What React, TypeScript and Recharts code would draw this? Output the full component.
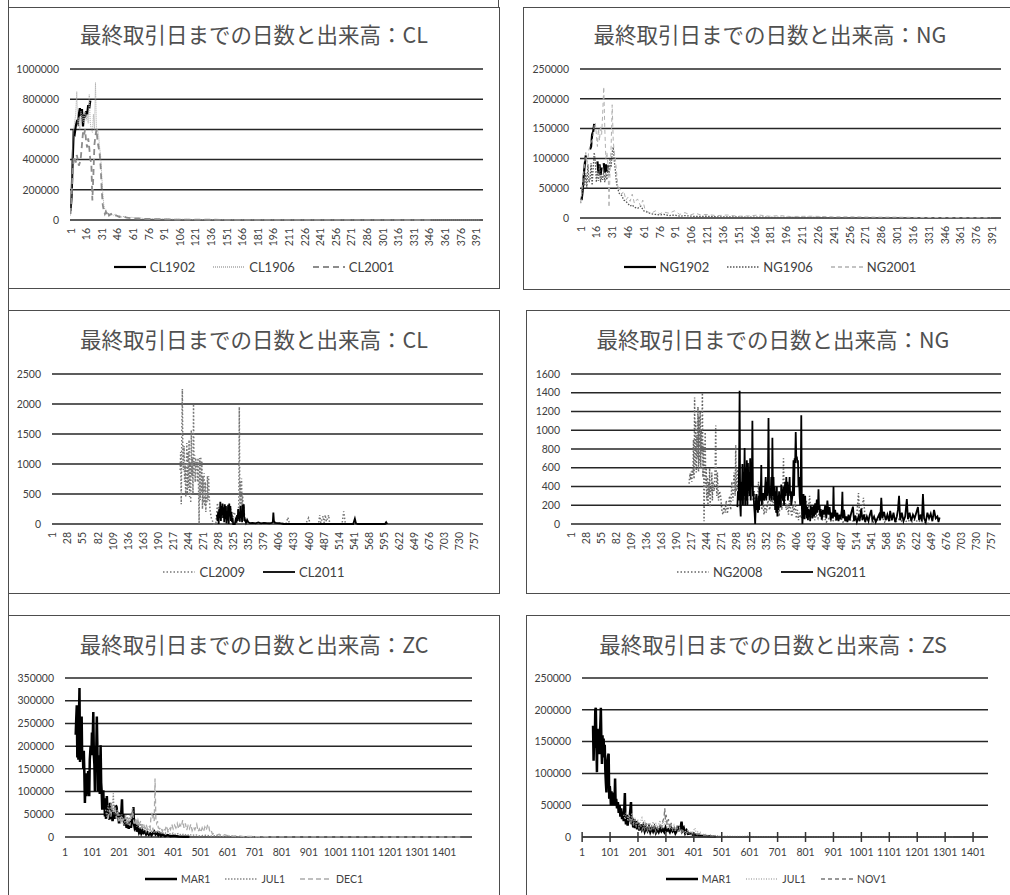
import React from "react";
import { LineChart, Line, XAxis, YAxis, CartesianGrid } from "recharts";

type Pt = [number, number | null];

const FONT = "Lato, 'Liberation Sans', sans-serif";
const JP = "'Noto Sans CJK JP', 'Noto Sans CJK SC', sans-serif";

// tick labels
const xTicks400 = [1, 16, 31, 46, 61, 76, 91, 106, 121, 136, 151, 166, 181, 196, 211, 226, 241, 256, 271, 286, 301, 316, 331, 346, 361, 376, 391];
const xTicks770 = [1, 28, 55, 82, 109, 136, 163, 190, 217, 244, 271, 298, 325, 352, 379, 406, 433, 460, 487, 514, 541, 568, 595, 622, 649, 676, 703, 730, 757];
const xTicks1500 = [1, 101, 201, 301, 401, 501, 601, 701, 801, 901, 1001, 1101, 1201, 1301, 1401];
const yTicksCL = [0, 200000, 400000, 600000, 800000, 1000000];
const yTicksNG = [0, 50000, 100000, 150000, 200000, 250000];
const yTicksCL2 = [0, 500, 1000, 1500, 2000, 2500];
const yTicksNG2 = [0, 200, 400, 600, 800, 1000, 1200, 1400, 1600];
const yTicksZC = [0, 50000, 100000, 150000, 200000, 250000, 300000, 350000];
const yTicksZS = [0, 50000, 100000, 150000, 200000, 250000];

// CL (top)
const cl1902: Pt[] = [[1, 60000], [2, 150000], [3, 380000], [4, 580000], [5, 570000], [6, 620000], [7, 650000], [8, 640000], [9, 700000], [10, 740000], [11, 690000], [12, 735000], [13, 620000], [14, 700000], [15, 680000], [16, 720000], [17, 700000], [18, 760000], [19, 740000], [20, 790000]];
const cl1906: Pt[] = [[1, 30000], [2, 200000], [3, 500000], [4, 600000], [5, 650000], [6, 700000], [7, 850000], [8, 620000], [9, 680000], [10, 600000], [11, 720000], [12, 650000], [13, 700000], [14, 640000], [15, 720000], [16, 660000], [17, 700000], [18, 640000], [19, 830000], [20, 640000], [21, 600000], [22, 580000], [23, 700000], [24, 600000], [25, 910000], [26, 570000], [27, 600000], [28, 560000], [29, 480000], [30, 420000], [31, 300000], [32, 180000], [33, 100000], [34, 70000], [35, 60000], [36, 45000], [37, 50000], [38, 35000], [40, 42000], [42, 30000], [44, 38000], [46, 25000], [48, 30000], [50, 20000], [53, 24000], [56, 15000], [60, 18000], [64, 12000], [68, 14000], [72, 9000], [78, 10000], [85, 7000], [92, 8000], [100, 5000], [110, 5000], [120, 3000], [135, 3000], [150, 2000], [170, 1500], [200, 1000], [240, 800], [280, 500], [320, 400], [360, 300], [395, 200]];
const cl2001: Pt[] = [[1, 40000], [2, 150000], [3, 300000], [4, 400000], [5, 420000], [6, 380000], [7, 430000], [8, 400000], [9, 360000], [10, 380000], [11, 420000], [12, 500000], [13, 580000], [14, 560000], [15, 600000], [16, 520000], [17, 480000], [18, 540000], [19, 480000], [20, 400000], [21, 380000], [22, 130000], [23, 300000], [24, 500000], [25, 560000], [26, 600000], [27, 520000], [28, 480000], [29, 440000], [30, 350000], [31, 200000], [32, 100000], [33, 60000], [34, 40000], [35, 55000], [36, 35000], [37, 50000], [38, 30000], [40, 40000], [42, 25000], [45, 30000], [48, 20000], [51, 25000], [55, 15000], [60, 12000], [66, 10000], [72, 8000], [80, 6000], [90, 5000], [100, 3000], [115, 2500], [130, 2000], [150, 1200], [180, 800], [220, 500], [260, 300], [300, 200], [350, 100]];

// NG (top)
const ng1902: Pt[] = [[2, 30000], [3, 45000], [4, 70000], [5, 90000], [6, 105000], [7, null], [10, 115000], [11, 120000], [12, 140000], [13, 145000], [14, 158000], [15, null], [17, 95000], [18, 75000], [19, 90000], [20, 72000], [21, 85000], [22, null], [23, 92000], [24, 76000], [25, 90000], [26, 78000], [27, 88000]];
const ng1906: Pt[] = [[1, 25000], [2, 35000], [3, 50000], [4, 60000], [5, 55000], [6, 75000], [7, 50000], [8, 90000], [9, 60000], [10, 65000], [11, 92000], [12, 55000], [13, 85000], [14, 110000], [15, 95000], [16, 60000], [17, 80000], [18, 62000], [19, 88000], [20, 60000], [21, 70000], [22, 64000], [23, 80000], [24, 60000], [25, 75000], [26, 64000], [27, 90000], [28, 70000], [29, 100000], [30, 85000], [31, 110000], [32, 119000], [33, 95000], [34, 80000], [35, 60000], [36, 52000], [37, 45000], [38, 40000], [40, 38000], [42, 30000], [44, 28000], [46, 24000], [48, 20000], [50, 22000], [52, 18000], [55, 16000], [58, 20000], [61, 12000], [64, 10000], [68, 7000], [72, 6000], [76, 5000], [80, 6000], [85, 4000], [90, 5000], [95, 3000], [100, 4000], [110, 2500], [120, 3000], [130, 2000], [145, 2000], [160, 1500], [180, 1200], [200, 1000], [230, 800], [260, 600], [290, 500], [320, 400], [350, 300], [362, 200]];
const ng2001: Pt[] = [[1, 25000], [2, 40000], [3, 60000], [4, 75000], [5, 95000], [6, 110000], [7, 90000], [8, 100000], [9, 115000], [10, 120000], [11, 130000], [12, 125000], [13, 140000], [14, 155000], [15, 160000], [16, 140000], [17, 120000], [18, 150000], [19, 130000], [20, 155000], [21, 140000], [22, 175000], [23, 220000], [24, 150000], [25, 100000], [26, 110000], [27, 90000], [28, 18000], [29, 80000], [30, 120000], [31, 190000], [32, 130000], [33, 110000], [34, 100000], [35, 80000], [36, 60000], [37, 45000], [38, 50000], [40, 40000], [42, 45000], [44, 30000], [46, 35000], [48, 28000], [50, 40000], [52, 25000], [55, 32000], [58, 20000], [60, 30000], [62, 15000], [65, 10000], [68, 8000], [72, 12000], [76, 7000], [80, 10000], [85, 8000], [90, 12000], [95, 6000], [100, 9000], [105, 5000], [110, 8000], [115, 5000], [120, 6000], [130, 4000], [140, 5000], [150, 3000], [160, 3500], [170, 5000], [180, 3000], [190, 4000], [200, 2500], [220, 3000], [240, 2000], [260, 2000], [280, 1500], [300, 1500], [320, 1000], [340, 800], [360, 600], [390, 500]];

// CL (middle)
const cl2009: Pt[] = [[230, 900], [231, 1200], [232, 330], [233, 1500], [234, 2250], [235, 1000], [236, 900], [237, 1300], [238, 700], [239, 1000], [240, 450], [241, 900], [242, 1350], [243, 500], [244, 1200], [245, 600], [246, 1400], [247, 450], [248, 1000], [249, 350], [250, 1560], [251, 800], [252, 1100], [253, 500], [254, 2000], [255, 800], [256, 1150], [257, 700], [258, 1100], [259, 900], [260, 1050], [261, 700], [262, 1100], [263, 600], [264, 0], [265, 1100], [266, 400], [267, 1120], [268, 500], [269, 1050], [270, 250], [271, 800], [272, 350], [273, 850], [274, 300], [275, 700], [276, 200], [277, 500], [278, 350], [279, 800], [280, 400], [281, 800], [282, 500], [283, 300], [284, 200], [286, 100], [288, 50], [290, 0], [294, 0], [296, 250], [297, 350], [298, 150], [299, 300], [300, 100], [302, 250], [304, 80], [306, 200], [308, 120], [310, 280], [312, 150], [315, 300], [318, 120], [321, 250], [324, 100], [327, 200], [330, 80], [333, 150], [335, 300], [336, 1950], [337, 300], [338, 700], [339, 200], [340, 760], [341, 250], [342, 500], [343, 150], [344, 300], [346, 50], [350, 20], [360, 10], [380, 10], [400, 20], [420, 10], [423, 110], [426, 0], [455, 0], [460, 100], [463, 0], [478, 0], [480, 150], [482, 20], [486, 130], [488, 20], [490, 150], [492, 40], [496, 150], [498, 0], [520, 0], [523, 210], [526, 0], [540, 0]];
const cl2011: Pt[] = [[296, 150], [297, 50], [298, 200], [299, 0], [300, 250], [301, 100], [302, 370], [303, 50], [304, 300], [305, 150], [306, 340], [307, 100], [308, 280], [309, 30], [310, 330], [311, 80], [312, 300], [313, 10], [314, 200], [315, 60], [316, 320], [317, 0], [318, 340], [319, 150], [320, 300], [321, 50], [322, 200], [323, 30], [324, 100], [325, 0], [328, 0], [330, 100], [331, 20], [332, 150], [333, 50], [334, 250], [335, 80], [336, 180], [337, 40], [338, 300], [339, 100], [340, 200], [341, 30], [342, 320], [343, 120], [344, 330], [345, 50], [346, 80], [348, 20], [350, 70], [352, 30], [355, 15], [360, 20], [365, 10], [370, 25], [375, 10], [380, 20], [385, 15], [390, 10], [394, 20], [396, 30], [397, 190], [398, 50], [400, 20], [405, 15], [410, 10], [415, 0], [540, 0], [543, 90], [545, 10], [548, 0], [597, 0], [599, 30], [601, 0]];

// NG (middle)
const ng2008: Pt[] = [[213, 430], [214, 500], [215, 540], [216, 470], [217, 560], [218, 450], [219, 600], [220, 520], [221, 900], [222, 480], [223, 1350], [224, 600], [225, 1100], [226, 550], [227, 950], [228, 700], [229, 1250], [230, 560], [231, 1150], [232, 650], [233, 1200], [234, 600], [235, 1000], [236, 750], [237, 1400], [238, 500], [239, 850], [240, 30], [241, 500], [242, 980], [243, 380], [244, 600], [245, 250], [246, 500], [247, 200], [248, 450], [249, 300], [250, 600], [251, 180], [252, 400], [253, 350], [254, 550], [255, 250], [256, 450], [258, 350], [260, 600], [261, 1050], [262, 500], [263, 300], [264, 550], [265, 400], [266, 250], [268, 350], [270, 290], [272, 150], [274, 100], [276, 200], [278, 120], [280, 250], [282, 110], [284, 200], [286, 300], [288, 150], [290, 450], [292, 250], [294, 550], [296, 300], [297, 840], [298, 350], [300, 600], [302, 250], [304, 500], [306, 300], [308, 450], [310, 200], [312, 400], [314, 250], [316, 350], [318, 200], [320, 500], [322, 300], [324, 400], [326, 620], [328, 250], [330, 350], [332, 200], [334, 300], [336, 150], [338, 450], [340, 250], [342, 300], [344, 150], [346, 250], [348, 100], [350, 200], [352, 120], [355, 250], [358, 150], [361, 300], [364, 200], [367, 350], [370, 110], [372, 200], [375, 80], [378, 300], [380, 150], [382, 400], [383, 700], [384, 350], [386, 250], [388, 150], [390, 200], [392, 100], [394, 250], [396, 150], [398, 80], [400, 200], [402, 120], [404, 250], [406, 60], [408, 150], [410, 40], [412, 120], [415, 60], [418, 150], [421, 80], [424, 250], [427, 100], [430, 300], [433, 60], [436, 150], [439, 40], [442, 100], [445, 60], [448, 150], [452, 30], [456, 80], [460, 20], [465, 60], [470, 20], [475, 50], [480, 30], [485, 80], [490, 20], [495, 60], [500, 30], [505, 50], [510, 20], [515, 100], [518, 330], [520, 80], [524, 150], [527, 280], [530, 60], [535, 40], [540, 100], [545, 20], [550, 60], [555, 30], [560, 80], [565, 20], [570, 60], [575, 40], [580, 90], [585, 20], [590, 50], [595, 30], [600, 60], [605, 20], [610, 40], [615, 20], [620, 50], [625, 20], [630, 40], [635, 10], [640, 20], [645, 0]];
const ng2011: Pt[] = [[300, 180], [301, 350], [302, 250], [303, 600], [304, 1420], [305, 200], [306, 80], [307, 450], [308, 250], [309, 640], [310, 200], [311, 500], [312, 300], [313, 810], [314, 200], [315, 600], [316, 250], [317, 680], [318, 200], [319, 650], [320, 350], [321, 550], [322, 300], [323, 700], [324, 250], [325, 600], [326, 400], [327, 1100], [328, 300], [329, 350], [330, 200], [331, 120], [332, 0], [333, 200], [334, 320], [335, 150], [336, 200], [337, 120], [338, 300], [339, 150], [340, 400], [341, 250], [342, 300], [343, 630], [344, 200], [345, 320], [346, 260], [347, 330], [348, 250], [349, 300], [350, 400], [351, 500], [352, 250], [353, 450], [354, 300], [355, 500], [356, 1130], [357, 400], [358, 250], [359, 350], [360, 300], [361, 500], [362, 250], [363, 920], [364, 300], [365, 500], [366, 250], [367, 400], [368, 150], [369, 350], [370, 120], [371, 400], [372, 80], [373, 300], [374, 150], [375, 350], [376, 200], [377, 300], [378, 180], [379, 420], [380, 300], [381, 350], [382, 250], [383, 400], [384, 200], [385, 350], [386, 450], [387, 300], [388, 500], [389, 330], [390, 450], [391, 250], [392, 400], [393, 330], [394, 500], [395, 300], [396, 350], [397, 200], [398, 250], [399, 300], [400, 400], [401, 680], [402, 300], [403, 700], [404, 650], [405, 980], [406, 700], [407, 720], [408, 650], [409, 680], [410, 400], [411, 500], [412, 300], [413, 200], [414, 400], [415, 1160], [416, 200], [417, 0], [418, 100], [419, 320], [420, 150], [421, 50], [422, 300], [423, 100], [424, 200], [425, 60], [426, 180], [427, 40], [428, 160], [429, 80], [430, 150], [431, 30], [432, 200], [433, 100], [434, 180], [435, 60], [436, 120], [437, 200], [438, 80], [439, 150], [440, 220], [441, 100], [442, 180], [443, 260], [444, 120], [445, 200], [446, 370], [447, 150], [448, 200], [449, 80], [450, 160], [452, 50], [454, 150], [456, 100], [458, 200], [460, 60], [462, 250], [464, 100], [466, 180], [468, 40], [470, 120], [472, 60], [473, 400], [474, 80], [476, 150], [478, 40], [480, 120], [482, 30], [484, 100], [486, 50], [488, 160], [489, 345], [490, 60], [492, 150], [494, 30], [496, 80], [498, 20], [500, 100], [502, 40], [505, 120], [508, 185], [510, 30], [512, 90], [515, 20], [518, 80], [520, 30], [523, 165], [525, 40], [528, 100], [530, 20], [533, 80], [536, 30], [538, 90], [541, 150], [543, 40], [546, 80], [549, 20], [552, 60], [555, 100], [557, 40], [559, 280], [561, 60], [564, 130], [567, 40], [570, 100], [573, 30], [575, 140], [578, 40], [581, 120], [584, 20], [587, 80], [589, 150], [591, 300], [593, 40], [596, 120], [599, 30], [602, 80], [605, 265], [607, 50], [610, 120], [613, 30], [616, 100], [619, 60], [622, 120], [625, 180], [627, 40], [630, 100], [632, 30], [634, 320], [636, 60], [639, 20], [642, 120], [645, 60], [648, 110], [651, 30], [654, 150], [657, 60], [660, 80], [662, 20], [664, 70]];

// ZC
const zcMar: Pt[] = [[40, 225000], [42, 260000], [44, 290000], [46, 175000], [48, 240000], [50, 170000], [52, 265000], [54, 328000], [56, 165000], [58, 250000], [60, 200000], [62, 265000], [64, 170000], [66, 190000], [68, 150000], [70, 190000], [72, 140000], [74, 75000], [76, 120000], [78, 140000], [80, 90000], [82, 130000], [84, 95000], [86, 145000], [88, 120000], [90, 90000], [92, 170000], [95, 200000], [98, 180000], [100, 230000], [102, 190000], [105, 275000], [107, 180000], [109, 160000], [111, 100000], [113, 200000], [115, 150000], [118, 265000], [120, 200000], [122, 100000], [124, 180000], [126, 130000], [129, 95000], [132, 202000], [134, 120000], [136, 100000], [138, 60000], [140, 90000], [142, 103000], [144, 60000], [146, 85000], [148, 45000], [150, 70000], [152, 40000], [155, 90000], [158, 50000], [161, 70000], [164, 38000], [167, 75000], [170, 40000], [173, 60000], [176, 35000], [179, 45000], [182, 55000], [185, 40000], [188, 70000], [191, 66000], [194, 45000], [197, 50000], [200, 30000], [203, 55000], [206, 40000], [209, 60000], [211, 83000], [213, 40000], [216, 50000], [220, 25000], [224, 40000], [228, 20000], [232, 30000], [236, 18000], [240, 35000], [244, 20000], [248, 40000], [251, 45000], [253, 66000], [255, 30000], [258, 20000], [262, 25000], [266, 12000], [270, 20000], [274, 10000], [278, 15000], [282, 8000], [286, 14000], [290, 9000], [295, 12000], [300, 6000], [305, 10000], [310, 5000], [315, 8000], [320, 4000], [330, 12000], [335, 6000], [340, 9000], [345, 4000], [350, 8000], [355, 3000], [360, 6000], [370, 2000], [380, 4000], [390, 1500], [400, 2500], [420, 1000], [440, 800], [460, 500]];
const zcJul: Pt[] = [[150, 60000], [155, 45000], [160, 70000], [165, 50000], [170, 75000], [175, 55000], [179, 96000], [182, 50000], [186, 70000], [190, 45000], [194, 60000], [198, 35000], [202, 55000], [206, 30000], [210, 50000], [214, 35000], [218, 25000], [222, 40000], [226, 28000], [230, 45000], [234, 25000], [238, 35000], [242, 50000], [246, 40000], [250, 65000], [254, 35000], [258, 28000], [262, 40000], [266, 22000], [270, 37000], [274, 20000], [278, 30000], [282, 18000], [286, 28000], [290, 15000], [295, 24000], [300, 12000], [305, 20000], [310, 10000], [315, 16000], [320, 12000], [325, 18000], [330, 8000], [335, 14000], [340, 9000], [345, 15000], [350, 7000], [355, 12000], [360, 6000], [365, 10000], [370, 8000], [380, 12000], [390, 6000], [400, 9000], [410, 5000], [420, 8000], [430, 4000], [440, 7000], [450, 3000], [460, 6000], [470, 3000], [480, 5000], [500, 2500], [520, 4000], [540, 2000], [560, 3000], [580, 1500], [600, 2000], [640, 800], [700, 500], [760, 300]];
const zcDec: Pt[] = [[160, 40000], [165, 60000], [170, 45000], [175, 70000], [180, 55000], [185, 65000], [190, 40000], [195, 55000], [200, 35000], [205, 45000], [210, 30000], [215, 40000], [220, 35000], [225, 48000], [230, 30000], [235, 42000], [240, 25000], [245, 45000], [250, 55000], [255, 30000], [260, 40000], [265, 25000], [270, 38000], [275, 28000], [280, 35000], [285, 22000], [290, 30000], [295, 20000], [300, 28000], [305, 18000], [310, 25000], [315, 20000], [318, 45000], [321, 53000], [324, 40000], [327, 48000], [330, 35000], [333, 129000], [336, 40000], [339, 30000], [342, 35000], [345, 20000], [350, 18000], [355, 22000], [360, 12000], [365, 20000], [370, 15000], [375, 25000], [380, 14000], [385, 22000], [390, 16000], [395, 28000], [400, 18000], [405, 26000], [410, 20000], [415, 30000], [420, 18000], [425, 28000], [430, 22000], [435, 37000], [440, 20000], [445, 30000], [450, 15000], [455, 25000], [460, 18000], [465, 28000], [470, 14000], [475, 22000], [480, 16000], [487, 28000], [492, 12000], [497, 18000], [502, 10000], [507, 20000], [512, 12000], [517, 22000], [522, 15000], [527, 26000], [530, 28000], [535, 12000], [540, 15000], [545, 6000], [550, 8000], [560, 4000], [570, 6000], [580, 3000], [590, 5000], [600, 3000], [610, 4000], [621, 2000], [640, 3000], [660, 1000], [680, 1500], [700, 800], [750, 500], [800, 300], [900, 200], [1000, 100], [1100, 100], [1200, 50], [1300, 50], [1460, 0]];

// ZS
const zsMar: Pt[] = [[40, 175000], [42, 120000], [44, 160000], [46, 140000], [48, 200000], [50, 203000], [52, 150000], [54, 102000], [56, 170000], [58, 140000], [60, 165000], [62, 130000], [64, 160000], [66, 175000], [68, 203000], [70, 150000], [72, 115000], [74, 160000], [76, 130000], [78, 155000], [80, 125000], [82, 145000], [84, 105000], [86, 85000], [88, 70000], [90, 95000], [92, 120000], [94, 128000], [96, 131000], [98, 60000], [100, 80000], [102, 70000], [104, 50000], [106, 72000], [108, 55000], [110, 65000], [112, 50000], [115, 70000], [117, 55000], [119, 92000], [121, 50000], [123, 60000], [126, 45000], [129, 55000], [132, 38000], [135, 50000], [138, 32000], [141, 45000], [144, 28000], [147, 40000], [150, 25000], [152, 45000], [154, 69000], [156, 30000], [158, 20000], [161, 35000], [164, 18000], [167, 30000], [170, 25000], [173, 40000], [176, 55000], [178, 20000], [181, 30000], [184, 15000], [187, 28000], [190, 14000], [194, 25000], [198, 12000], [202, 22000], [206, 10000], [210, 20000], [215, 12000], [220, 18000], [225, 9000], [230, 15000], [235, 10000], [240, 16000], [245, 8000], [250, 14000], [255, 9000], [260, 15000], [265, 7000], [270, 12000], [275, 8000], [280, 14000], [285, 9000], [290, 12000], [295, 8000], [300, 15000], [305, 10000], [310, 12000], [315, 8000], [320, 14000], [325, 9000], [330, 12000], [335, 6000], [340, 10000], [345, 15000], [350, 12000], [355, 18000], [357, 24000], [360, 10000], [365, 14000], [370, 6000], [375, 10000], [380, 5000], [390, 6000], [400, 3000], [410, 4000], [420, 2000], [440, 1500], [460, 800], [480, 500]];
const zsJul: Pt[] = [[150, 35000], [155, 28000], [160, 40000], [165, 25000], [170, 35000], [175, 22000], [180, 38000], [185, 20000], [190, 30000], [195, 18000], [200, 28000], [205, 15000], [210, 25000], [215, 30000], [220, 18000], [225, 26000], [230, 14000], [235, 22000], [240, 12000], [245, 20000], [250, 16000], [255, 24000], [260, 14000], [265, 22000], [270, 12000], [275, 20000], [280, 26000], [285, 15000], [290, 24000], [295, 18000], [300, 28000], [305, 16000], [310, 22000], [315, 12000], [320, 20000], [325, 10000], [330, 18000], [335, 9000], [340, 16000], [345, 8000], [350, 14000], [355, 9000], [360, 12000], [365, 7000], [370, 10000], [375, 6000], [380, 12000], [385, 5000], [390, 9000], [395, 6000], [400, 10000], [405, 14000], [410, 5000], [415, 8000], [420, 4000], [425, 7000], [430, 3000], [440, 5000], [450, 2500], [460, 3500], [470, 1500], [480, 2500], [500, 1000], [520, 1500], [550, 800], [580, 1000], [600, 2000], [610, 600], [650, 500], [700, 400], [800, 300], [900, 200], [1000, 200], [1100, 100], [1200, 100], [1330, 50]];
const zsNov: Pt[] = [[170, 30000], [175, 20000], [180, 32000], [185, 18000], [190, 28000], [195, 15000], [200, 24000], [205, 12000], [210, 20000], [215, 10000], [220, 18000], [225, 12000], [230, 22000], [235, 10000], [240, 16000], [245, 8000], [250, 14000], [255, 10000], [260, 18000], [265, 8000], [270, 15000], [275, 10000], [280, 18000], [285, 12000], [290, 25000], [294, 30000], [297, 45000], [299, 28000], [302, 35000], [305, 20000], [310, 28000], [315, 14000], [320, 22000], [325, 12000], [330, 18000], [335, 10000], [340, 16000], [345, 8000], [350, 12000], [355, 6000], [360, 10000], [370, 5000], [380, 8000], [390, 4000], [400, 6000], [410, 3000], [420, 5000], [430, 2000], [440, 3000], [450, 1500], [470, 1000], [500, 500], [550, 300]];

type Series = { name: string; data: Pt[]; color: string; width: number; dash?: string };
type PanelDef = {
  title: string;
  box: [number, number, number, number];
  titleY: number;
  chart: { left: number; top: number; width: number; height: number; yw: number; xh: number };
  xMax: number;
  xTicks: number[];
  yTicks: number[];
  rotated: boolean;
  cross?: boolean;
  series: Series[];
  legendY: number;
  legendFont: number;
  legendGap: number;
};

const TITLE = "最終取引日までの日数と出来高：";

const panels: PanelDef[] = [
  {
    title: TITLE + "CL", box: [8, 7, 492, 282], titleY: 34,
    chart: { left: 10, top: 59, width: 483, height: 201, yw: 60, xh: 40 },
    xMax: 397, xTicks: xTicks400, yTicks: yTicksCL, rotated: true,
    series: [
      { name: "CL1902", data: cl1902, color: "#000000", width: 2.2 },
      { name: "CL1906", data: cl1906, color: "#a6a6a6", width: 1, dash: "1 1" },
      { name: "CL2001", data: cl2001, color: "#8c8c8c", width: 1.8, dash: "6 4" },
    ],
    legendY: 267, legendFont: 13, legendGap: 18,
  },
  {
    title: TITLE + "NG", box: [523, 7, 494, 283], titleY: 34,
    chart: { left: 520, top: 59, width: 491, height: 199, yw: 60, xh: 40 },
    xMax: 399, xTicks: xTicks400, yTicks: yTicksNG, rotated: true,
    series: [
      { name: "NG1902", data: ng1902, color: "#000000", width: 2.2 },
      { name: "NG1906", data: ng1906, color: "#555555", width: 1.3, dash: "1.5 1.5" },
      { name: "NG2001", data: ng2001, color: "#b0b0b0", width: 1, dash: "4 3" },
    ],
    legendY: 267, legendFont: 13, legendGap: 18,
  },
  {
    title: TITLE + "CL", box: [8, 310, 492, 284], titleY: 339,
    chart: { left: 7, top: 364, width: 486, height: 200, yw: 45, xh: 40 },
    xMax: 772, xTicks: xTicks770, yTicks: yTicksCL2, rotated: true,
    series: [
      { name: "CL2009", data: cl2009, color: "#777777", width: 1.5, dash: "1.5 2" },
      { name: "CL2011", data: cl2011, color: "#000000", width: 1.8 },
    ],
    legendY: 572, legendFont: 13, legendGap: 18,
  },
  {
    title: TITLE + "NG", box: [526, 310, 491, 284], titleY: 339,
    chart: { left: 521, top: 364, width: 490, height: 200, yw: 50, xh: 40 },
    xMax: 774, xTicks: xTicks770, yTicks: yTicksNG2, rotated: true,
    series: [
      { name: "NG2008", data: ng2008, color: "#666666", width: 1.5, dash: "1.5 2" },
      { name: "NG2011", data: ng2011, color: "#000000", width: 1.8 },
    ],
    legendY: 572, legendFont: 13, legendGap: 18,
  },
  {
    title: TITLE + "ZC", box: [8, 615, 492, 300], titleY: 644,
    chart: { left: 5, top: 668, width: 477, height: 194, yw: 60, xh: 25 },
    xMax: 1503, xTicks: xTicks1500, yTicks: yTicksZC, rotated: false,
    series: [
      { name: "MAR1", data: zcMar, color: "#000000", width: 2.5 },
      { name: "JUL1", data: zcJul, color: "#888888", width: 1.3, dash: "1.5 1.5" },
      { name: "DEC1", data: zcDec, color: "#aaaaaa", width: 1.3, dash: "5 3" },
    ],
    legendY: 879, legendFont: 10.5, legendGap: 15,
  },
  {
    title: TITLE + "ZS", box: [526, 615, 500, 300], titleY: 644,
    chart: { left: 522, top: 668, width: 476, height: 194, yw: 60, xh: 25 },
    xMax: 1454, xTicks: xTicks1500, yTicks: yTicksZS, rotated: false, cross: true,
    series: [
      { name: "MAR1", data: zsMar, color: "#000000", width: 2.5 },
      { name: "JUL1", data: zsJul, color: "#b0b0b0", width: 1.3, dash: "1 1.5" },
      { name: "NOV1", data: zsNov, color: "#777777", width: 1.3, dash: "4 3" },
    ],
    legendY: 879, legendFont: 10.5, legendGap: 15,
  },
];

const toPts = (a: Pt[]) => a.map(([x, y]) => ({ x, y }));

const RotTick = (props: any) => {
  const { x, y, payload } = props;
  return (
    <text x={x} y={y} transform={`rotate(-90 ${x} ${y})`} textAnchor="end" dominantBaseline="central"
      fontSize={10.5} fill="#404040" fontFamily={FONT}>
      {payload.value}
    </text>
  );
};

const FlatTick = (props: any) => {
  const { x, y, payload, cross } = props;
  return (
    <g>
      {cross && <line x1={x} x2={x} y1={y - 20} y2={y - 10} stroke="#333333" strokeWidth={1.5} />}
      <text x={x} y={y} textAnchor="middle" dominantBaseline="central" fontSize={10.5} fill="#404040" fontFamily={FONT}>
        {payload.value}
      </text>
    </g>
  );
};

function Panel({ p }: { p: PanelDef }) {
  const [bl, bt, bw, bh] = p.box;
  return (
    <>
      <div style={{ position: "absolute", left: bl, top: bt, width: bw, height: bh, border: "1px solid #4d4d4d", boxSizing: "border-box", background: "#fff" }} />
      <div style={{ position: "absolute", left: bl, top: p.titleY - 15, width: bl > 500 ? 494 : 492, height: 30, lineHeight: "30px", textAlign: "center", fontFamily: JP, fontSize: 21.5, color: "#505050", whiteSpace: "nowrap" }}>
        {p.title}
      </div>
      <div style={{ position: "absolute", left: p.chart.left, top: p.chart.top }}>
        <LineChart width={p.chart.width} height={p.chart.height} margin={{ top: 10, right: 10, left: 0, bottom: 0 }}>
          <CartesianGrid vertical={false} stroke="#262626" strokeWidth={1.5} />
          <XAxis dataKey="x" type="number" domain={[0.5, p.xMax + 0.5]} ticks={p.xTicks} interval={0} allowDataOverflow
            axisLine={p.cross ? { stroke: "#404040", strokeWidth: 1.5 } : false} tickLine={false} tickSize={0}
            tickMargin={p.rotated ? 8 : 15} height={p.chart.xh}
            tick={(tp: any) => (p.rotated ? <RotTick {...tp} /> : <FlatTick {...tp} cross={p.cross} />)} />
          <YAxis type="number" domain={[0, p.yTicks[p.yTicks.length - 1]]} ticks={p.yTicks} interval={0} width={p.chart.yw}
            axisLine={false} tickLine={false} tickSize={0} tickMargin={11}
            tick={{ fontSize: 10.5, fill: "#404040", fontFamily: FONT }} />
          {p.series.map((s) => (
            <Line key={s.name} data={toPts(s.data)} dataKey="y" type="linear" stroke={s.color} strokeWidth={s.width}
              strokeDasharray={s.dash} dot={false} activeDot={false} connectNulls={false} isAnimationActive={false} />
          ))}
        </LineChart>
      </div>
      <div style={{ position: "absolute", left: bl, width: bw, top: p.legendY - 10, height: 20, display: "flex", justifyContent: "center", alignItems: "center", gap: p.legendGap, fontFamily: FONT, fontSize: p.legendFont, color: "#404040" }}>
        {p.series.map((s) => (
          <div key={s.name} style={{ display: "flex", alignItems: "center", gap: 4 }}>
            <svg width={32} height={10}>
              <line x1={0} y1={5} x2={32} y2={5} stroke={s.color} strokeWidth={Math.max(s.width, 1.3)} strokeDasharray={s.dash} />
            </svg>
            <span>{s.name}</span>
          </div>
        ))}
      </div>
    </>
  );
}

export default function App() {
  return (
    <div style={{ position: "absolute", left: 0, top: 0, width: 1010, height: 895, overflow: "hidden", background: "#fff" }}>
      <div style={{ position: "absolute", left: 8, top: 0, width: 1, height: 895, background: "#4d4d4d" }} />
      <div style={{ position: "absolute", left: 498, top: 0, width: 1, height: 8, background: "#4d4d4d" }} />
      {panels.map((p, i) => (
        <Panel key={i} p={p} />
      ))}
    </div>
  );
}
